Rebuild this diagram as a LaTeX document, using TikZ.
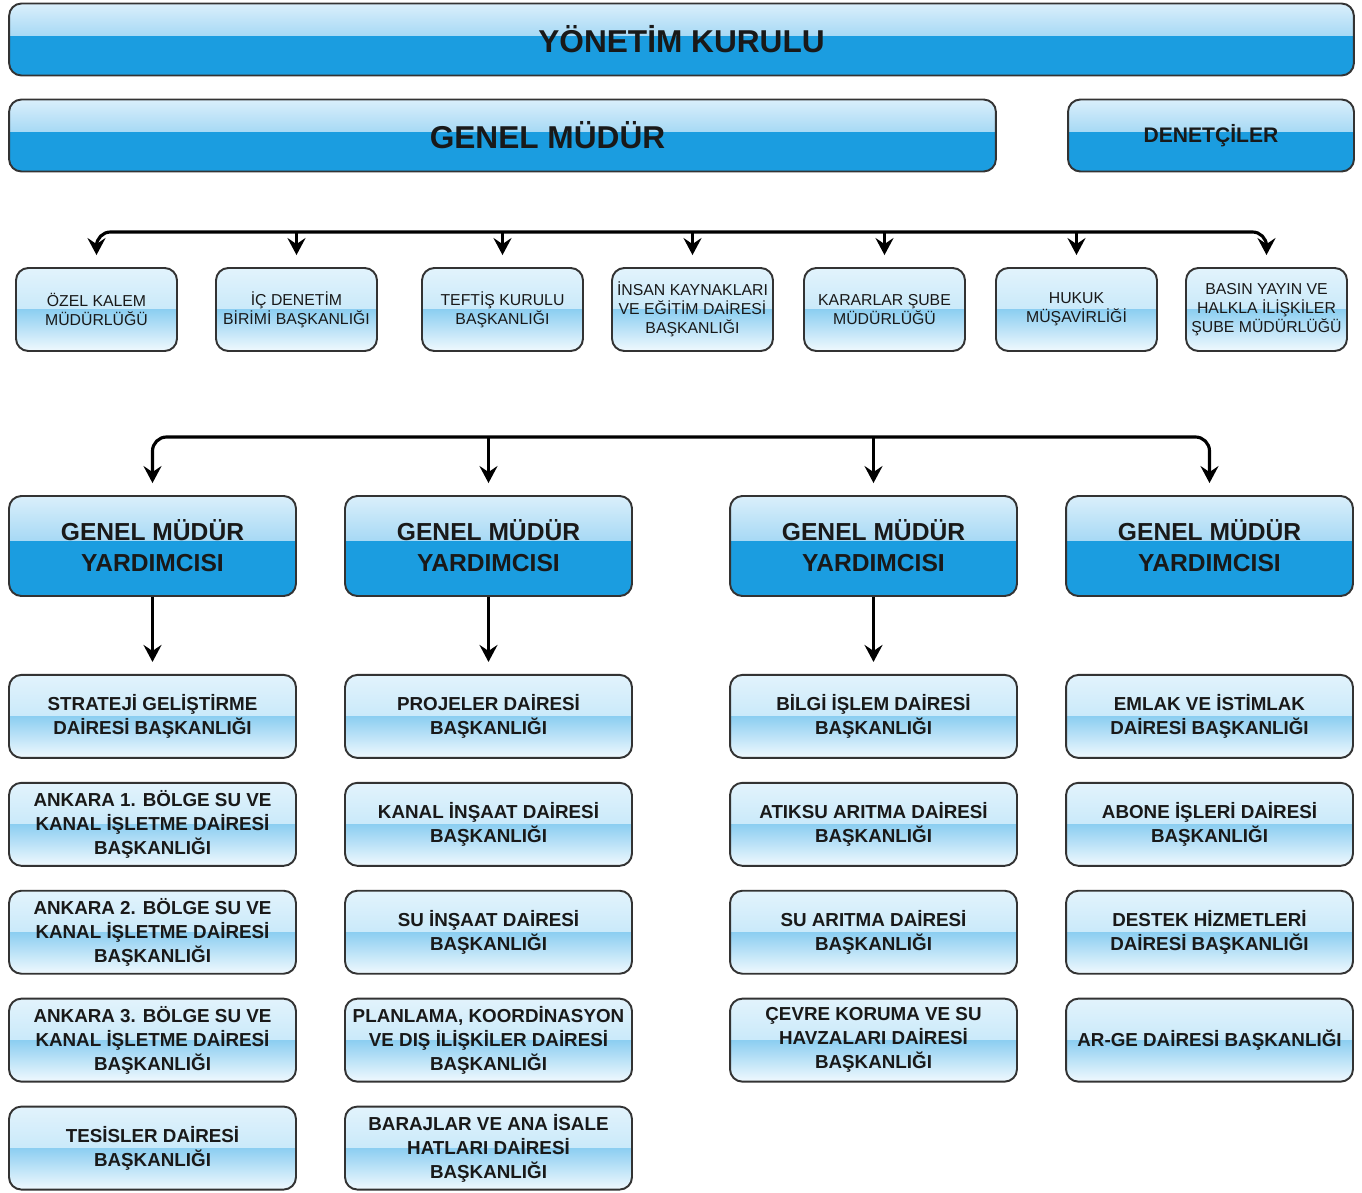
\documentclass[tikz,border=0pt]{standalone}
\usepackage{fontspec}
\setmainfont{Liberation Sans}
\usetikzlibrary{positioning, calc}
\usetikzlibrary{arrows.meta}
\tikzset{>={Stealth[width=3.6mm,length=3.4mm,inset=1.2mm]}}
\definecolor{gmblue}{RGB}{27,157,224}
\definecolor{gmtop}{RGB}{218,239,251}
\definecolor{gmmid}{RGB}{104,190,237}
\definecolor{lbtop}{RGB}{226,243,252}
\definecolor{lbmidup}{RGB}{178,224,247}
\definecolor{lbmiddown}{RGB}{140,206,241}
\definecolor{lbbot}{RGB}{240,249,254}

\begin{document}
\begin{tikzpicture}[x=0.02cm, y=-0.02cm,
    darkbox/.style={rounded corners=7pt, draw=black!80, line width=1.1pt, fill=gmblue, align=center, inner sep=1pt, text=black!90,
        path picture={\shade[top color=gmtop, bottom color=gmmid, sharp corners] (path picture bounding box.north west) rectangle ($(path picture bounding box.north east)!0.44!(path picture bounding box.south east)$);}},
    lightbox/.style={rounded corners=7pt, draw=black!80, line width=1.1pt, fill=lbbot, align=center, inner sep=1pt, text=black!90,
        path picture={\shade[top color=lbtop, bottom color=lbmidup, sharp corners] (path picture bounding box.north west) rectangle ($(path picture bounding box.north east)!0.5!(path picture bounding box.south east)$);
                      \shade[top color=lbmiddown, bottom color=lbbot, sharp corners] (path picture bounding box.west) rectangle (path picture bounding box.south east);}},
    bigtext/.style={font=\fontsize{18}{21}\selectfont\bfseries},
    smallbox/.style={lightbox, minimum width=3.22cm, minimum height=1.66cm, font=\fontsize{9}{10.8}\selectfont},
    gmybox/.style={darkbox, minimum width=5.74cm, minimum height=2.0cm, font=\fontsize{14}{17.6}\selectfont\bfseries},
    unitbox/.style={lightbox, minimum width=5.74cm, minimum height=1.66cm, font=\fontsize{10.7}{13.6}\selectfont\bfseries},
    arrow/.style={line width=1.8pt, black, rounded corners=8pt, shorten >=0.24cm}]

    \useasboundingbox (0,0) rectangle (1362,1193);

    %Top
    \node[darkbox, bigtext, minimum width=26.9cm, minimum height=1.44cm](kurul) at (681.5,39.5){YÖNETİM KURULU};
    \node[darkbox, bigtext, minimum width=19.74cm, minimum height=1.44cm](genel) at (502.5,135.5){\hspace*{1.8cm}GENEL MÜDÜR};
    \node[darkbox, font=\fontsize{12}{14}\selectfont\bfseries, minimum width=5.72cm, minimum height=1.44cm](denetci) at (1211,135.5){DENETÇİLER};

    %Units of the general manager
    \node[smallbox](ozel) at (96.5,309.5){ÖZEL KALEM\\MÜDÜRLÜĞÜ};
    \node[smallbox](icden) at (296.5,309.5){İÇ DENETİM\\BİRİMİ BAŞKANLIĞI};
    \node[smallbox](teftis) at (502.5,309.5){TEFTİŞ KURULU\\BAŞKANLIĞI};
    \node[smallbox](insan) at (692.5,309.5){İNSAN KAYNAKLARI\\VE EĞİTİM DAİRESİ\\BAŞKANLIĞI};
    \node[smallbox](karar) at (884.5,309.5){KARARLAR ŞUBE\\MÜDÜRLÜĞÜ};
    \node[smallbox](hukuk) at (1076.5,309.5){HUKUK\\MÜŞAVİRLİĞİ};
    \node[smallbox](basin) at (1266.5,309.5){BASIN YAYIN VE\\HALKLA İLİŞKİLER\\ŞUBE MÜDÜRLÜĞÜ};

    %Deputies
    \node[gmybox](gmy1) at (152.5,546){GENEL MÜDÜR\\YARDIMCISI};
    \node[gmybox](gmy2) at (488.5,546){GENEL MÜDÜR\\YARDIMCISI};
    \node[gmybox](gmy3) at (873.5,546){GENEL MÜDÜR\\YARDIMCISI};
    \node[gmybox](gmy4) at (1209.5,546){GENEL MÜDÜR\\YARDIMCISI};

    %Column 1
    \node[unitbox](strateji)[below=1.54cm of gmy1]{STRATEJİ GELİŞTİRME\\DAİRESİ BAŞKANLIĞI};
    \node[unitbox](bolge1)[below=0.46cm of strateji]{ANKARA 1. BÖLGE SU VE\\KANAL İŞLETME DAİRESİ\\BAŞKANLIĞI};
    \node[unitbox](bolge2)[below=0.46cm of bolge1]{ANKARA 2. BÖLGE SU VE\\KANAL İŞLETME DAİRESİ\\BAŞKANLIĞI};
    \node[unitbox](bolge3)[below=0.46cm of bolge2]{ANKARA 3. BÖLGE SU VE\\KANAL İŞLETME DAİRESİ\\BAŞKANLIĞI};
    \node[unitbox](tesis)[below=0.46cm of bolge3]{TESİSLER DAİRESİ\\BAŞKANLIĞI};

    %Column 2
    \node[unitbox](projeler)[below=1.54cm of gmy2]{PROJELER DAİRESİ\\BAŞKANLIĞI};
    \node[unitbox](kanal)[below=0.46cm of projeler]{KANAL İNŞAAT DAİRESİ\\BAŞKANLIĞI};
    \node[unitbox](suinsaat)[below=0.46cm of kanal]{SU İNŞAAT DAİRESİ\\BAŞKANLIĞI};
    \node[unitbox](planlama)[below=0.46cm of suinsaat]{PLANLAMA, KOORDİNASYON\\VE DIŞ İLİŞKİLER DAİRESİ\\BAŞKANLIĞI};
    \node[unitbox](baraj)[below=0.46cm of planlama]{BARAJLAR VE ANA İSALE\\HATLARI DAİRESİ\\BAŞKANLIĞI};

    %Column 3
    \node[unitbox](bilgi)[below=1.54cm of gmy3]{BİLGİ İŞLEM DAİRESİ\\BAŞKANLIĞI};
    \node[unitbox](atiksu)[below=0.46cm of bilgi]{ATIKSU ARITMA DAİRESİ\\BAŞKANLIĞI};
    \node[unitbox](suaritma)[below=0.46cm of atiksu]{SU ARITMA DAİRESİ\\BAŞKANLIĞI};
    \node[unitbox](cevre)[below=0.46cm of suaritma]{ÇEVRE KORUMA VE SU\\HAVZALARI DAİRESİ\\BAŞKANLIĞI};

    %Column 4
    \node[unitbox](emlak)[below=1.54cm of gmy4]{EMLAK VE İSTİMLAK\\DAİRESİ BAŞKANLIĞI};
    \node[unitbox](abone)[below=0.46cm of emlak]{ABONE İŞLERİ DAİRESİ\\BAŞKANLIĞI};
    \node[unitbox](destek)[below=0.46cm of abone]{DESTEK HİZMETLERİ\\DAİRESİ BAŞKANLIĞI};
    \node[unitbox](arge)[below=0.46cm of destek]{AR-GE DAİRESİ BAŞKANLIĞI};

    %Lines
    \coordinate (busa) at (0,232);
    \coordinate (busb) at (0,437);
    \draw[arrow, <->, shorten <=0.24cm] (ozel.north) |- (busa -| basin.north) -- (basin.north);
    \foreach \u in {icden, teftis, insan, karar, hukuk}
        \draw[arrow, ->] (busa -| \u.north) -- (\u.north);
    \draw[arrow, <->, shorten <=0.24cm] (gmy1.north) |- (busb -| gmy4.north) -- (gmy4.north);
    \foreach \g in {gmy2, gmy3}
        \draw[arrow, ->] (busb -| \g.north) -- (\g.north);
    \foreach \g/\u in {gmy1/strateji, gmy2/projeler, gmy3/bilgi}
        \draw[arrow, ->] (\g.south) -- (\u.north);

\end{tikzpicture}
\end{document}
